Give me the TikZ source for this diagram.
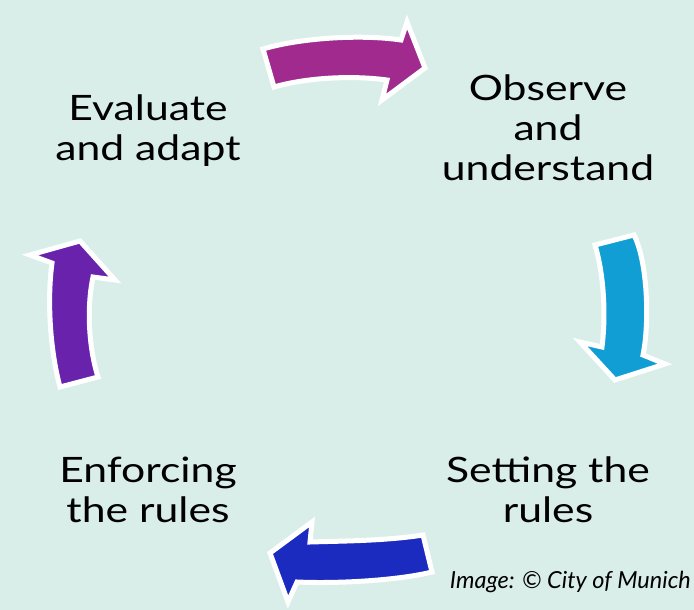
\documentclass[tikz,border=0pt]{standalone}
\usepackage{fontspec}
\setmainfont{Lato}
\newfontfamily\labelfont[FakeStretch=1.22]{Lato}

\definecolor{mint}{RGB}{218,238,233}
\definecolor{arrowA}{RGB}{160,42,142}
\definecolor{arrowB}{RGB}{17,158,213}
\definecolor{arrowC}{RGB}{27,43,192}
\definecolor{arrowD}{RGB}{104,34,172}

\tikzset{
  blockarrow/.style={draw=white,line width=5,line join=miter},
  step label/.style={align=center,font=\labelfont\fontsize{35}{40}\selectfont,text=black}
}

\begin{document}
\begin{tikzpicture}[x=1pt,y=-1pt]
    \fill[mint] (0,0) rectangle (694,610);
    \useasboundingbox (0,0) rectangle (694,610);

    % the four curved block arrows
    \fill[arrowA,blockarrow] (263,49) .. controls (300,38) and (360,34) .. (401,40) -- (407,22) -- (425,68) -- (382,100) -- (387,80) .. controls (350,75) and (305,78) .. (274,87) -- cycle;
    \fill[arrowB,blockarrow] (595,245) -- (634,235) .. controls (647,260) and (650,320) .. (643,355) -- (665,364) -- (615,380) -- (580,342) -- (602,347) .. controls (606,315) and (604,275) .. (595,245) -- cycle;
    \fill[arrowC,blockarrow] (423,535) -- (432,572) .. controls (400,580) and (340,584) .. (297,582) -- (288,602) -- (270,553) -- (312,522) -- (310,542) .. controls (340,541) and (385,541) .. (423,535) -- cycle;
    \fill[arrowD,blockarrow] (60,387) .. controls (50,350) and (47,300) .. (52,263) -- (30,255) -- (80,241) -- (115,280) -- (93,277) .. controls (87,305) and (88,345) .. (98,377) -- cycle;

    \node[step label] (evaluate) at (148,131) {Evaluate\\and adapt};
    \node[step label] (observe) at (548,128) {Observe\\and\\understand};
    \node[step label] (setting) at (548,490) {Setting the\\rules};
    \node[step label] (enforcing) at (148,490) {Enforcing\\the rules};
    \node[anchor=east,inner sep=0pt,font=\fontsize{23.5}{26}\selectfont\itshape] (credit) at (691,582) {Image: © City of Munich};
\end{tikzpicture}
\end{document}
